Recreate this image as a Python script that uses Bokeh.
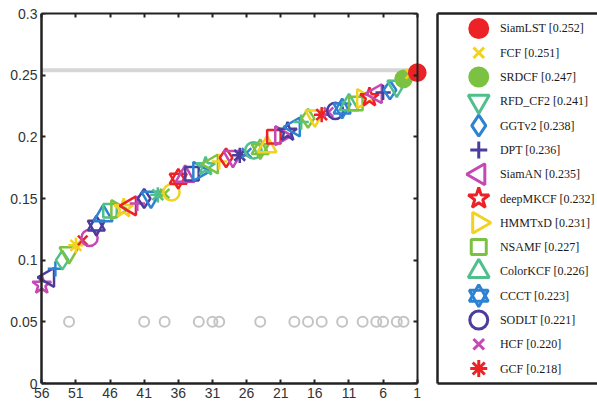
import math
from bokeh.plotting import figure
from bokeh.models import ColumnDataSource, Range1d, FixedTicker, LinearAxis, CustomJSTickFormatter
from bokeh.layouts import row
from bokeh.core.properties import value
from bokeh.embed import file_html
from bokeh.resources import INLINE

# ---------------- data ----------------
legend_names = ["SiamLST", "FCF", "SRDCF", "RFD_CF2", "GGTv2", "DPT", "SiamAN",
                "deepMKCF", "HMMTxD", "NSAMF", "ColorKCF", "CCCT", "SODLT", "HCF", "GCF"]
# EAO per rank (1..56)
eao = [0.252, 0.251, 0.247, 0.241, 0.238, 0.236, 0.235, 0.232, 0.231, 0.227,
       0.226, 0.223, 0.221, 0.220, 0.218,
       0.217, 0.215, 0.212, 0.208, 0.204, 0.201, 0.200, 0.192, 0.190, 0.189,
       0.187, 0.185, 0.184, 0.183, 0.180, 0.178, 0.176, 0.172, 0.170, 0.168,
       0.166, 0.155, 0.154, 0.153, 0.151, 0.150, 0.146, 0.144, 0.142, 0.141,
       0.140, 0.136, 0.128, 0.118, 0.116, 0.112, 0.106, 0.100, 0.093, 0.086,
       0.080]
ranks = list(range(1, len(eao) + 1))
bound = 0.254
bottom_ranks = [52, 41, 38, 33, 31, 30, 24, 19, 17, 15, 12, 9, 7, 6, 4, 3]
bottom_level = 0.05
x_ticks = [56, 51, 46, 41, 36, 31, 26, 21, 16, 11, 6, 1]
y_ticks = [0, 0.05, 0.1, 0.15, 0.2, 0.25, 0.3]
y_labels = ["0", "0.05", "0.1", "0.15", "0.2", "0.25", "0.3"]

palette = ["#ec2227", "#f3d21f", "#7cc242", "#4fbf8c", "#2e82d2", "#4a3d9e", "#c548b4"]
shapes = ["circle", "x", "asterisk", "inverted_triangle", "diamond", "cross",
          "triangle_left", "star", "triangle_right", "square", "triangle", "hexagram"]
filled_ranks = [1, 3]
size_factor = {"circle": 0.9, "x": 0.75, "asterisk": 0.85, "inverted_triangle": 1.05,
               "diamond": 1.05, "cross": 0.85, "triangle_left": 1.05, "star": 1.1,
               "triangle_right": 1.05, "square": 0.75, "triangle": 1.05, "hexagram": 0.95}


def marker_rows(rank, xv, yv, base):
    i = rank - 1
    color = palette[i % 7]
    shape = shapes[i % 12]
    filled = rank in filled_ranks
    if filled:
        shape = "circle"
    sz = base * size_factor[shape]
    out = []
    if shape == "hexagram":
        out.append(("triangle", 0.0))
        out.append(("inverted_triangle", 0.0))
    elif shape == "triangle_left":
        out.append(("triangle", math.pi / 2))
    elif shape == "triangle_right":
        out.append(("triangle", -math.pi / 2))
    else:
        out.append((shape, 0.0))
    rows = []
    for m, a in out:
        rows.append(dict(x=xv, y=yv, marker=m, angle=a, color=color, size=sz,
                         fa=1.0 if filled else 0.0))
    return rows


def build(xs, ys, rks, base):
    cols = dict(x=[], y=[], marker=[], angle=[], color=[], fa=[], size=[])
    for xv, yv, r in zip(xs, ys, rks):
        for rr in marker_rows(r, xv, yv, base):
            for k in cols:
                cols[k].append(rr[k])
    return cols


FONT = "Liberation Sans"
EMPTY = CustomJSTickFormatter(code="return ''")
AX = "#222222"
first, last = x_ticks[0], x_ticks[-1]
pad = 1.5

# ---------------- main plot ----------------
p = figure(width=436, height=408, output_backend="svg", toolbar_location=None,
           x_range=Range1d(first + pad, last - pad), y_range=Range1d(0, 0.3),
           min_border_left=31, min_border_right=9, min_border_top=13, min_border_bottom=25)
p.background_fill_color = "white"
p.border_fill_color = "white"
p.outline_line_color = None
p.grid.visible = False

# bottom axis (labels + line limited to the data box)
xa = p.xaxis[0]
xa.ticker = FixedTicker(ticks=x_ticks)
xa.bounds = (last, first)
xa.axis_line_width = 2.5
xa.axis_line_color = AX
xa.major_tick_in = 4
xa.major_tick_out = 0
xa.major_tick_line_width = 2
xa.major_tick_line_color = AX
xa.minor_tick_line_color = None
xa.major_label_text_font = FONT
xa.major_label_text_font_size = "14px"
xa.major_label_text_color = "#333333"
xa.major_label_standoff = 4

# left axis: labels only, at the panel edge
ya = p.yaxis[0]
ya.ticker = FixedTicker(ticks=y_ticks)
ya.major_label_overrides = {t: l for t, l in zip(y_ticks, y_labels)}
ya.axis_line_color = None
ya.major_tick_line_color = None
ya.minor_tick_line_color = None
ya.major_tick_in = 0
ya.major_tick_out = 0
ya.major_label_standoff = -6
ya.major_label_text_font = FONT
ya.major_label_text_font_size = "14px"
ya.major_label_text_color = "#333333"

def frame_axis(**kw):
    return LinearAxis(formatter=EMPTY, major_tick_in=4, major_tick_out=0,
                      major_tick_line_width=2, major_tick_line_color=AX,
                      minor_tick_line_color=None, axis_line_color=AX,
                      major_label_standoff=0, **kw)

left_line = frame_axis(ticker=FixedTicker(ticks=y_ticks), fixed_location=first, axis_line_width=2.5)
top_ax = frame_axis(ticker=FixedTicker(ticks=x_ticks), bounds=(last, first), axis_line_width=2)
right_ax = frame_axis(ticker=FixedTicker(ticks=y_ticks), fixed_location=last, axis_line_width=2)
p.add_layout(left_line, "left")
p.add_layout(top_ax, "above")
p.add_layout(right_ax, "right")

# state-of-the-art bound
p.segment(x0=[first], x1=[last], y0=[bound], y1=[bound], line_color="#d6d6d6", line_width=4)

# gray circles
p.scatter(x=bottom_ranks, y=[bottom_level] * len(bottom_ranks), marker="circle", size=10,
          line_color="#c4c4c4", fill_alpha=0, line_width=2)

# trackers, drawn from last rank to first so the best is on top
order = list(reversed(ranks))
cols = build([r for r in order], [eao[r - 1] for r in order], order, 18)
src = ColumnDataSource(cols)
p.scatter(x="x", y="y", marker="marker", angle="angle", size="size", line_color="color",
          fill_color="color", fill_alpha="fa", line_width=2.5, source=src)

# ---------------- legend panel ----------------
n = len(legend_names)
leg = figure(width=161, height=408, output_backend="svg", toolbar_location=None,
             x_range=Range1d(0, 159), y_range=Range1d(n + 0.616, 0.384),
             min_border_left=1, min_border_right=0, min_border_top=12, min_border_bottom=25)
leg.outline_line_color = None
leg.grid.visible = False
leg.xaxis.visible = False
leg.yaxis.visible = False
for place in ("left", "above", "below"):
    ax = LinearAxis(ticker=FixedTicker(ticks=[]), formatter=EMPTY,
                    major_tick_in=0, major_tick_out=0, minor_tick_line_color=None,
                    major_tick_line_color=None, axis_line_color=AX,
                    axis_line_width=2.5, major_label_standoff=0)
    leg.add_layout(ax, place)

lr = list(range(1, n + 1))
lcols = build([41] * n, lr, lr, 20)
leg.scatter(x="x", y="y", marker="marker", angle="angle", size="size", line_color="color",
            fill_color="color", fill_alpha="fa", line_width=3, source=ColumnDataSource(lcols))
labels = ["%s [%.3f]" % (nm, v) for nm, v in zip(legend_names, eao[:n])]
leg.text(x=[62] * n, y=lr, text=labels, text_font=value("Liberation Serif"),
         text_font_size="12px", text_baseline="middle", text_color="#1a1a1a")

layout = row(p, leg)
open("out.html", "w").write(file_html(layout, INLINE))
